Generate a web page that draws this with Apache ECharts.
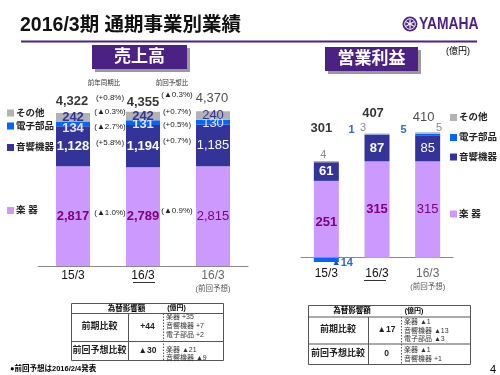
<!DOCTYPE html>
<html>
<head>
<meta charset="utf-8">
<script src="https://cdn.jsdelivr.net/npm/echarts@6/dist/echarts.min.js"></script>
<style>
html, body { margin: 0; padding: 0; background: #fff; }
#chart { width: 500px; height: 375px; }
</style>
</head>
<body>
<div id="chart"></div>
<script>
// data
var categories = ['15/3', '16/3', '16/3(前回予想)'];

var salesInst = [2817, 2789, 2815];
var salesAudio = [1128, 1194, 1185];
var salesElec = [134, 131, 130];
var salesOther = [242, 242, 240];
var salesTotal = [4322, 4355, 4370];

var opInst = [251, 315, 315];
var opAudio = [61, 87, 85];
var opElec = [-14, 1, 5];
var opOther = [4, 3, 5];
var opTotal = [301, 407, 410];

// order: total, その他, 電子部品, 音響機器, 楽器
var yoyPct = ['(+0.8%)', '(▲0.3%)', '(▲2.7%)', '(+5.8%)', '(▲1.0%)'];
var fcPct = ['(▲0.3%)', '(+0.7%)', '(+0.5%)', '(+0.7%)', '(▲0.9%)'];

var salesFxRows = [
	['前期比較', '+44', ['楽器 +35', '音響機器 +7', '電子部品 +2']],
	['前回予想比較', '▲30', ['楽器 ▲21', '音響機器 ▲9']]
];
var opFxRows = [
	['前期比較', '▲17', ['楽器 ▲1', '音響機器 ▲13', '電子部品 ▲3']],
	['前回予想比較', '0', ['楽器 ▲1', '音響機器 +1']]
];

var FONT = '"Liberation Sans", "Noto Sans CJK JP", sans-serif';
var PURPLE = '#4b2283';
var C_INST = '#cc99ff', C_AUDIO = '#333399', C_ELEC = '#0066ff', C_OTHER = '#b2b2b2';

function fmt(v) { return Math.abs(v).toLocaleString('en-US'); }

// graphic helpers
var G = [];
function T(x, y, text, o) {
	o = o || {};
	G.push({
		type: 'text', x: x, y: y, z: 10,
		style: {
			text: text, fill: o.color || '#000', fontSize: o.size || 9,
			fontWeight: o.weight || 'normal', fontFamily: FONT,
			textAlign: o.align || 'center', textVerticalAlign: 'middle'
		}
	});
}
function L(x1, y1, x2, y2, o) {
	o = o || {};
	G.push({type: 'line', z: 5, shape: {x1: x1, y1: y1, x2: x2, y2: y2},
		style: {stroke: o.color || '#666', lineWidth: o.width || 1, lineDash: o.dash || null}});
}
function R(x, y, w, h, fill, stroke) {
	G.push({type: 'rect', z: 4, shape: {x: x, y: y, width: w, height: h},
		style: {fill: fill || 'none', stroke: stroke || null, lineWidth: 1}});
}

// header
T(20, 25.5, '2016/3期 通期事業別業績', {size: 19.5, weight: 'bold', align: 'left', color: '#111'});
L(21, 41.5, 477, 41.5, {color: PURPLE, width: 2});
G.push({type: 'circle', z: 5, shape: {cx: 410, cy: 24, r: 7.5}, style: {fill: PURPLE}});
G.push({type: 'circle', z: 6, shape: {cx: 410, cy: 24, r: 5.3}, style: {fill: 'none', stroke: '#fff', lineWidth: 1}});
[90, 30, 150].forEach(function (a) {
	var r = a * Math.PI / 180, dx = Math.cos(r) * 4.5, dy = Math.sin(r) * 4.5;
	G.push({type: 'line', z: 7, shape: {x1: 410 - dx, y1: 24 - dy, x2: 410 + dx, y2: 24 + dy},
		style: {stroke: '#fff', lineWidth: 1.2}});
});
T(419, 24, 'YAMAHA', {size: 16.5, weight: 'bold', align: 'left', color: PURPLE});
G[G.length - 1].scaleX = 0.84;

T(458, 51.5, '(億円)', {size: 9});

// section boxes
R(95, 48, 95, 24, '#9a9a9a');
R(92, 45, 95, 24, PURPLE);
T(139.5, 57, '売上高', {size: 17, weight: 'bold', color: '#fff'});
R(328, 50, 93, 24, '#9a9a9a');
R(325, 47, 93, 24, PURPLE);
T(371.5, 59, '営業利益', {size: 17, weight: 'bold', color: '#fff'});

// legends
function legendItem(x, y, color, text) {
	R(x, y - 3.5, 7, 7, color);
	T(x + 9, y, text, {size: 9.5, weight: 'bold', align: 'left', color: '#222'});
}
legendItem(7, 113, C_OTHER, 'その他');
legendItem(7, 126, C_ELEC, '電子部品');
legendItem(7, 147.5, C_AUDIO, '音響機器');
legendItem(7, 210.5, C_INST, '楽 器');
legendItem(450, 117.5, C_OTHER, 'その他');
legendItem(450, 137.5, C_ELEC, '電子部品');
legendItem(450, 157, C_AUDIO, '音響機器');
legendItem(450, 214, C_INST, '楽 器');

// comparison percentages
T(104, 83, '前年同期比', {size: 6.5, color: '#333'});
T(172, 83, '前回予想比', {size: 6.5, color: '#333'});
var yoyY = [98, 112, 127, 143, 213];
var fcY = [94.5, 112, 125, 141, 211];
yoyPct.forEach(function (s, i) { T(110, yoyY[i], s, {size: 8, color: '#222'}); });
fcPct.forEach(function (s, i) { T(177, fcY[i], s, {size: 8, color: '#222'}); });

// underline for 16/3
L(133, 282.5, 155, 282.5, {color: '#333'});
L(364, 280.5, 386, 280.5, {color: '#333'});

// fx tables
function fxTable(x, y, w, hHead, h1, h2, c1, c2, rows, headX, unitX, lineYs) {
	R(x + 0.5, y + 0.5, w, hHead + h1 + h2, '#fff', '#555');
	L(x + 0.5, y + hHead + 0.5, x + w + 0.5, y + hHead + 0.5, {color: '#555'});
	L(x + 0.5, y + hHead + h1 + 0.5, x + w + 0.5, y + hHead + h1 + 0.5, {color: '#555'});
	L(c1 + 0.5, y + hHead + 0.5, c1 + 0.5, y + hHead + h1 + h2 + 0.5, {color: '#555'});
	L(c2 + 0.5, y + hHead + 0.5, c2 + 0.5, y + hHead + h1 + h2 + 0.5, {color: '#555', dash: [1.5, 1.5]});
	T(headX, y + hHead / 2 + 0.5, '為替影響額', {size: 7.5, weight: 'bold'});
	T(unitX, y + hHead / 2 + 0.5, '(億円)', {size: 7, weight: 'bold'});
	var rowMid = [y + hHead + h1 / 2, y + hHead + h1 + h2 / 2];
	rows.forEach(function (r, i) {
		T((x + c1) / 2, rowMid[i], r[0], {size: 9, weight: 'bold', color: '#222'});
		T((c1 + c2) / 2 + 2, rowMid[i], r[1], {size: 8.5, weight: 'bold', color: '#222'});
		r[2].forEach(function (s, j) {
			T(c2 + 3, lineYs[i][j], s, {size: 7, align: 'left', color: '#333'});
		});
	});
}
fxTable(71, 303, 152, 10, 28, 19, 128, 163, salesFxRows, 126.5, 176.5,
	[[317.5, 326.5, 335.5], [350, 358]]);
fxTable(308, 305, 162, 11.5, 27, 20.5, 368, 401, opFxRows, 352, 414,
	[[322.5, 331.5, 339.5], [350, 359]]);

// footer
T(10, 369, '●前回予想は2016/2/4発表', {size: 7.5, weight: 'bold', align: 'left'});
T(493, 370, '4', {size: 11});

// series builders
function items(values, perItem) {
	return values.map(function (v, i) {
		var it = {value: v, label: {}};
		if (i === 2) it.label.fontWeight = 'normal';
		if (perItem && perItem[i]) Object.assign(it.label, perItem[i]);
		return it;
	});
}
function bar(name, idx, values, color, barW, labelColor, perItem, labelOpt) {
	return {
		name: name, type: 'bar', stack: 'st' + idx, xAxisIndex: idx, yAxisIndex: idx,
		barWidth: barW, itemStyle: {color: color},
		label: Object.assign({
			show: true, position: 'inside', color: labelColor, fontSize: 13,
			fontWeight: 'bold', fontFamily: FONT,
			formatter: function (p) { return fmt(p.value); }
		}, labelOpt || {}),
		data: items(values, perItem)
	};
}
function totals(idx, values, perItem) {
	return {
		type: 'scatter', xAxisIndex: idx, yAxisIndex: idx, symbolSize: 0, z: 10,
		label: {
			show: true, position: 'top', color: '#000', fontSize: 13, fontWeight: 'bold',
			fontFamily: FONT, formatter: function (p) { return fmt(p.value); }
		},
		data: values.map(function (v, i) {
			var it = {value: v, label: {}};
			if (i === 2) { it.label.fontWeight = 'normal'; it.label.color = '#222'; }
			if (perItem && perItem[i]) Object.assign(it.label, perItem[i]);
			return it;
		})
	};
}

function xAxisCfg(idx, margin) {
	return {
		type: 'category', gridIndex: idx, data: categories,
		axisLine: {onZero: true, lineStyle: {color: '#888'}},
		axisTick: {inside: true, length: 3, lineStyle: {color: '#888'}},
		axisLabel: {
			margin: margin, fontFamily: FONT, interval: 0,
			formatter: function (v, i) {
				return i === 2 ? '{g|16/3}\n{s|(前回予想)}' : '{b|' + v + '}';
			},
			rich: {
				b: {fontSize: 12, lineHeight: 14, color: '#111', fontFamily: FONT},
				g: {fontSize: 12, lineHeight: 14, color: '#666', fontFamily: FONT},
				s: {fontSize: 7.5, lineHeight: 12, color: '#555', fontFamily: FONT}
			}
		}
	};
}

var option = {
	animation: false,
	grid: [
		{left: 38, top: 89, width: 210, height: 177},
		{left: 301, top: 120, width: 152, height: 153}
	],
	xAxis: [xAxisCfg(0, 3), xAxisCfg(1, -6)],
	yAxis: [
		{type: 'value', gridIndex: 0, min: 0, max: 5000, show: false},
		{type: 'value', gridIndex: 1, min: -50, max: 450, show: false}
	],
	graphic: G,
	series: [
		bar('楽器', 0, salesInst, C_INST, 34, '#800080'),
		bar('音響機器', 0, salesAudio, C_AUDIO, 34, '#fff'),
		bar('電子部品', 0, salesElec, C_ELEC, 34, '#e4e4ff',
			[{offset: [0, 4]}, {offset: [0, 2]}, {offset: [0, 1]}]),
		bar('その他', 0, salesOther, C_OTHER, 34, '#333399'),
		totals(0, salesTotal, [{offset: [-1, 0]}, {offset: [0, 2]}, {offset: [-1, -1]}]),

		bar('楽器', 1, opInst, C_INST, 25, '#800080', [{offset: [0, 3]}]),
		bar('音響機器', 1, opAudio, C_AUDIO, 25, '#fff'),
		bar('電子部品', 1, opElec, C_ELEC, 25, '#3366cc', [
			{position: 'right', offset: [-12, 3], formatter: '{t|▲}{n|14}',
				rich: {t: {fontSize: 9, color: '#1a4fcc', fontFamily: FONT},
					n: {fontSize: 11, fontWeight: 'bold', color: '#3366cc', fontFamily: FONT}}},
			{position: 'left', offset: [-5, -5]},
			{position: 'left', offset: [-3.5, -5], fontWeight: 'bold'}
		], {fontSize: 11}),
		bar('その他', 1, opOther, C_OTHER, 25, '#888', [
			{position: 'top', distance: 1, offset: [-3, 0]},
			{position: 'top', distance: 0, offset: [-14, 0]},
			{position: 'top', distance: 0, offset: [11.5, 1]}
		], {fontSize: 11, fontWeight: 'normal'}),
		totals(1, opTotal, [{offset: [-5, -26]}, {offset: [-4, -8.5]}, {offset: [-4, -3.5]}])
	]
};

var chart = echarts.init(document.getElementById('chart'));
chart.setOption(option);
</script>
</body>
</html>
